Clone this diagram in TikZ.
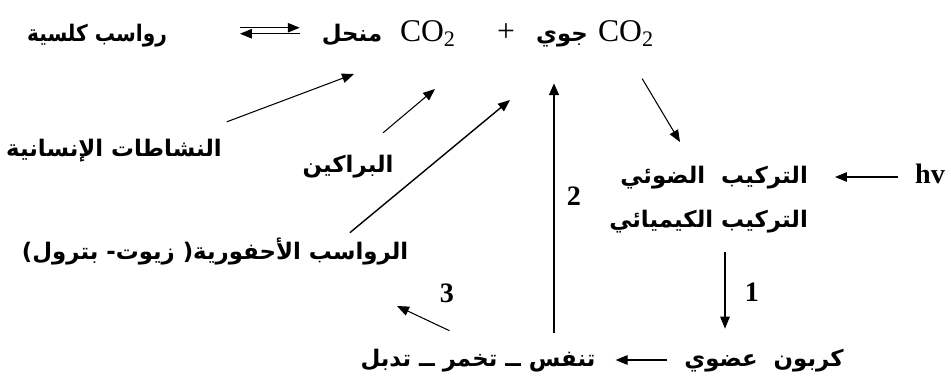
\documentclass[tikz,border=0pt]{standalone}
\usepackage{fontspec}
\setmainfont{Liberation Serif}
\newfontfamily\arabicfont[Script=Arabic]{DejaVu Sans}
\TeXXeTstate=1
\usetikzlibrary{arrows,arrows.meta,positioning,calc}

\newcommand{\artext}[1]{{\arabicfont\bfseries\beginR #1\endR}}

\begin{document}
\begin{tikzpicture}[
    >={Triangle[length=6.8pt,width=5.4pt]},
    word/.style={inner sep=1pt, text height=0.4cm, text depth=0.15cm, font=\fontsize{13}{15}\selectfont},
    chem/.style={inner sep=1pt, text height=0.4cm, text depth=0.15cm, font=\fontsize{18}{20}\selectfont},
    num/.style={inner sep=1pt, font=\fontsize{16}{18}\selectfont\bfseries},
    flow/.style={->, line width=0.6pt},
]
    \useasboundingbox (0,0) rectangle (19.02,7.62);

    % equilibrium line
    \node[word, anchor=base] (calc) at (1.94,6.78) {\scalebox{0.88}[1]{\artext{رواسب كلسية}}};
    \node[word, anchor=base] (mnhal) at (7.04,6.78) {\artext{منحل}};
    \node[chem, anchor=base] (co2d) at (8.56,6.78) {CO\textsubscript{2}};
    \node[chem, anchor=base] (plus) at (10.12,6.78) {+};
    \node[word, anchor=base] (jawi) at (11.24,6.78) {\artext{جوي}};
    \node[chem, anchor=base] (co2a) at (12.52,6.78) {CO\textsubscript{2}};

    % sources
    \node[word] (human) at (2.28,4.62) {\artext{النشاطات الإنسانية}};
    \node[word] (volcano) at (6.96,4.30) {\artext{البراكين}};
    \node[word] (fossil) at (4.30,2.56) {\artext{الرواسب الأحفورية( زيوت- بترول)}};

    % right branch
    \node[word, anchor=east] (photo1) at (16.20,4.08) {\artext{التركيب\ \ الضوئي}};
    \node[word, anchor=east] (photo2) at (16.20,3.20) {\artext{التركيب\ الكيميائي}};
    \node[chem, font=\fontsize{16}{18}\selectfont\bfseries] (hv) at (18.60,4.08) {hv};
    \node[word] (organic) at (15.28,0.42) {\artext{كربون\ \ عضوي}};
    \node[word] (resp) at (9.56,0.42) {\artext{تنفس ــ تخمر ــ تدبل}};

    \node[num] (one) at (15.04,1.78) {1};
    \node[num] (two) at (11.48,3.70) {2};
    \node[num] (three) at (8.94,1.76) {3};

    \coordinate (tipH) at (7.08,6.14);
    \coordinate (tipV) at (8.70,5.84);
    \coordinate (tipF) at (10.20,5.62);
    \coordinate (tipP) at (13.60,4.78);
    \coordinate (tipR) at (7.94,1.50);

    \draw[flow, shorten <=1.42cm, shorten >=0.4cm] ([yshift=0.16cm]calc.east) -- ([yshift=0.16cm]mnhal.west);
    \draw[flow, shorten <=0.4cm, shorten >=1.42cm] ([yshift=0.04cm]mnhal.west) -- ([yshift=0.04cm]calc.east);

    \draw[flow, shorten <=0.7cm] ([xshift=1.6cm]human.north) -- (tipH);
    \draw[flow, shorten <=0.54cm] ([xshift=0.29cm]volcano.north) -- (tipV);
    \draw[flow, line width=0.8pt, shorten <=0.14cm] ([xshift=2.59cm]fossil.north) -- (tipF);
    \draw[flow, line width=1.4pt, shorten <=0.23cm, shorten >=0.63cm] ([xshift=1.52cm]resp.north) -- ([xshift=1.52cm]resp.north |- jawi.south);
    \draw[flow, shorten <=0.63cm] (co2a.south) -- (tipP);
    \draw[flow, shorten <=0.3cm, shorten >=0.5cm] (hv.west) -- (photo1.east);
    \draw[flow, shorten <=0.31cm, shorten >=0.31cm] ([xshift=-0.78cm]organic.north |- photo2.south) -- ([xshift=-0.78cm]organic.north);
    \draw[flow, shorten <=0.3cm, shorten >=0.36cm] (organic.west) -- (resp.east);
    \draw[flow, shorten <=0.63cm] (resp.north) -- (tipR);
\end{tikzpicture}
\end{document}
